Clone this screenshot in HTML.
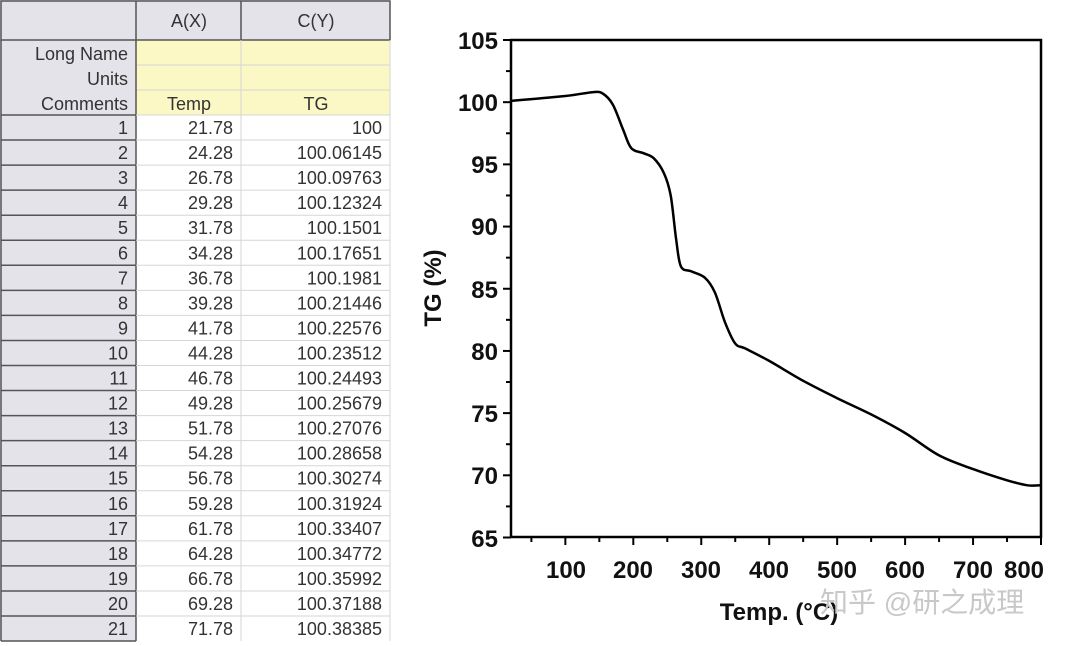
<!DOCTYPE html>
<html><head><meta charset="utf-8"><style>
html,body{margin:0;padding:0;background:#fff;width:1080px;height:646px;overflow:hidden}
svg{display:block}
.t{font-family:"Liberation Sans",Arial,sans-serif;font-size:18px;fill:#333}
.b{font-family:"Liberation Sans",Arial,sans-serif;font-weight:bold;font-size:24px;fill:#111}
</style></head><body>
<svg width="1080" height="646" xmlns="http://www.w3.org/2000/svg">
<rect x="0" y="0" width="390" height="40" fill="#e3e3e9"/>
<rect x="0" y="40" width="136" height="601" fill="#e3e3e9"/>
<rect x="136" y="40" width="254" height="75" fill="#fbf8c6"/>
<rect x="136" y="115" width="254" height="526" fill="#fff"/>
<g stroke="#d6d6d6" stroke-width="1">
<line x1="136" y1="65" x2="390" y2="65"/><line x1="136" y1="90" x2="390" y2="90"/>
</g>
<g stroke="#555" stroke-width="1.5" fill="none">
<rect x="1" y="1" width="389" height="39"/>
<line x1="136" y1="1" x2="136" y2="641"/>
<line x1="241" y1="1" x2="241" y2="40"/>
<line x1="1" y1="40" x2="1" y2="641"/>
<line x1="1" y1="641" x2="136" y2="641"/>
</g>
<line x1="241" y1="40" x2="241" y2="641" stroke="#d6d6d6"/>
<line x1="390" y1="40" x2="390" y2="641" stroke="#d6d6d6"/>
<text class="t" x="189" y="27" text-anchor="middle">A(X)</text>
<text class="t" x="316" y="27" text-anchor="middle">C(Y)</text>
<text class="t" x="128" y="60" text-anchor="end">Long Name</text>
<text class="t" x="128" y="85" text-anchor="end">Units</text>
<text class="t" x="128" y="110" text-anchor="end">Comments</text>
<text class="t" x="189" y="110" text-anchor="middle">Temp</text>
<text class="t" x="316" y="110" text-anchor="middle">TG</text>
<g id="tbl"></g>
<g stroke="#000" stroke-width="2.5" fill="none">
<rect x="511" y="40" width="530" height="497"/>
</g>
<g stroke="#000" stroke-width="2" id="ticks"></g>
<g class="b" text-anchor="end">
<text x="498" y="49">105</text><text x="498" y="111">100</text><text x="498" y="173">95</text>
<text x="498" y="235">90</text><text x="498" y="298">85</text><text x="498" y="360">80</text>
<text x="498" y="422">75</text><text x="498" y="484">70</text><text x="498" y="547">65</text>
</g>
<g class="b" text-anchor="middle">
<text x="566" y="578">100</text><text x="633" y="578">200</text><text x="701" y="578">300</text>
<text x="769" y="578">400</text><text x="837" y="578">500</text><text x="905" y="578">600</text>
<text x="973" y="578">700</text><text x="1024" y="578">800</text>
</g>
<text class="b" x="779" y="620" text-anchor="middle">Temp. (°C)</text>
<text class="b" transform="translate(441,288) rotate(-90)" text-anchor="middle">TG (%)</text>
<path id="curve" fill="none" stroke="#000" stroke-width="2.5" stroke-linejoin="round"/>
<text x="820" y="612" style="font-family:'Liberation Sans','Noto Sans CJK SC',sans-serif;font-size:28px;fill:#c8c8c8">知乎 @研之成理</text>
</svg>
<script>
var T=[["21.78","100"],["24.28","100.06145"],["26.78","100.09763"],["29.28","100.12324"],["31.78","100.1501"],["34.28","100.17651"],["36.78","100.1981"],["39.28","100.21446"],["41.78","100.22576"],["44.28","100.23512"],["46.78","100.24493"],["49.28","100.25679"],["51.78","100.27076"],["54.28","100.28658"],["56.78","100.30274"],["59.28","100.31924"],["61.78","100.33407"],["64.28","100.34772"],["66.78","100.35992"],["69.28","100.37188"],["71.78","100.38385"]];
var g=document.getElementById("tbl"),s="";
for(var i=0;i<21;i++){var y=115+i*25.05;
s+='<line x1="1" y1="'+y+'" x2="136" y2="'+y+'" stroke="#555" stroke-width="1.5"/>';
s+='<line x1="136" y1="'+y+'" x2="390" y2="'+y+'" stroke="#d6d6d6"/>';
s+='<text class="t" x="128" y="'+(y+19)+'" text-anchor="end">'+(i+1)+'</text>';
s+='<text class="t" x="233" y="'+(y+19)+'" text-anchor="end">'+T[i][0]+'</text>';
s+='<text class="t" x="382" y="'+(y+19)+'" text-anchor="end">'+T[i][1]+'</text>';}
g.innerHTML=s;
var k="";
for(var v=65;v<=105;v+=2.5){var y=40+(105-v)*12.4375;var L=(v%5==0)?8:5;k+='<line x1="'+(511-L)+'" y1="'+y+'" x2="511" y2="'+y+'"/>';}
for(var t=50;t<=800;t+=50){var x=511+(t-20)*0.6795;var L=(t%100==0)?8:5;k+='<line x1="'+x+'" y1="537" x2="'+x+'" y2="'+(537+L)+'"/>';}
document.getElementById("ticks").innerHTML=k;
var P=[[511,100.9],[565.4,96],[592.5,92.2],[602.7,93.5],[612.9,104.7],[623.1,129.6],[631.3,148.2],[643.5,153.2],[653.7,158.2],[663.9,173.1],[670.7,195.5],[676.1,239],[680.9,266.4],[691.1,271.3],[704.7,277.6],[714.9,292.5],[725,322.3],[735.2,343.5],[745.4,348.5],[769.2,360.9],[803.2,380.8],[837.2,398.2],[871.1,414.4],[905.1,433],[939.1,455.4],[973.1,469.1],[1007,480.3],[1027.4,485.3],[1041,485.3]];
var d="M"+P[0][0]+","+P[0][1];
for(var i=0;i<P.length-1;i++){var p0=P[Math.max(0,i-1)],p1=P[i],p2=P[i+1],p3=P[Math.min(P.length-1,i+2)];
d+=" C"+(p1[0]+(p2[0]-p0[0])/6)+","+(p1[1]+(p2[1]-p0[1])/6)+" "+(p2[0]-(p3[0]-p1[0])/6)+","+(p2[1]-(p3[1]-p1[1])/6)+" "+p2[0]+","+p2[1];}
document.getElementById("curve").setAttribute("d",d);
</script>
</body></html>
